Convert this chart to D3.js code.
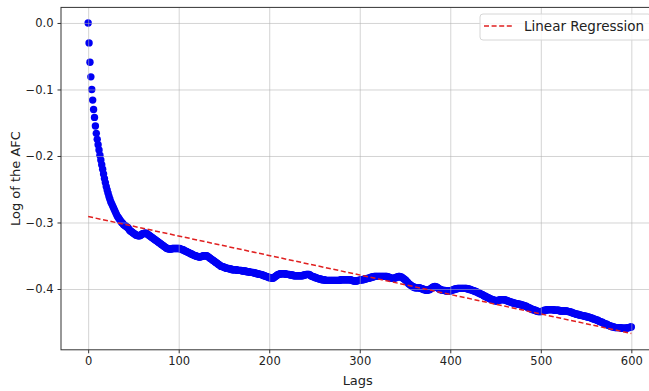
<!DOCTYPE html>
<html>
<head>
<meta charset="utf-8">
<script src="https://cdn.jsdelivr.net/npm/d3@7"></script>
<style>
  body { margin: 0; background: #fff; }
  svg { display: block; font-family: "DejaVu Sans", sans-serif; }
</style>
</head>
<body>
<svg></svg>
<script>
// log of the AFC, one value per lag (0..600)
const afcLog = [
  0.000, -0.030, -0.059, -0.081, -0.100, -0.116, -0.130, -0.142, -0.155, -0.166,
  -0.175, -0.183, -0.191, -0.199, -0.206, -0.213, -0.220, -0.227, -0.234, -0.240,
  -0.246, -0.251, -0.256, -0.261, -0.265, -0.269, -0.272, -0.275, -0.278, -0.281,
  -0.284, -0.287, -0.290, -0.292, -0.294, -0.296, -0.298, -0.300, -0.301, -0.303,
  -0.304, -0.305, -0.306, -0.307, -0.308, -0.310, -0.312, -0.313, -0.314, -0.315,
  -0.316, -0.317, -0.318, -0.319, -0.319, -0.320, -0.320, -0.320, -0.319, -0.318,
  -0.317, -0.317, -0.316, -0.316, -0.316, -0.317, -0.318, -0.319, -0.320, -0.321,
  -0.322, -0.323, -0.324, -0.325, -0.326, -0.327, -0.328, -0.329, -0.330, -0.331,
  -0.332, -0.333, -0.334, -0.335, -0.336, -0.337, -0.338, -0.339, -0.339, -0.340,
  -0.340, -0.340, -0.340, -0.339, -0.339, -0.339, -0.339, -0.339, -0.339, -0.339,
  -0.339, -0.339, -0.340, -0.340, -0.341, -0.341, -0.342, -0.343, -0.343, -0.344,
  -0.345, -0.345, -0.346, -0.347, -0.347, -0.348, -0.349, -0.349, -0.350, -0.350,
  -0.351, -0.351, -0.352, -0.352, -0.352, -0.351, -0.351, -0.350, -0.350, -0.350,
  -0.350, -0.350, -0.351, -0.352, -0.353, -0.354, -0.355, -0.356, -0.357, -0.358,
  -0.359, -0.360, -0.361, -0.362, -0.363, -0.364, -0.365, -0.366, -0.366, -0.367,
  -0.367, -0.368, -0.368, -0.369, -0.369, -0.369, -0.370, -0.370, -0.370, -0.371,
  -0.371, -0.371, -0.371, -0.371, -0.371, -0.372, -0.372, -0.372, -0.372, -0.372,
  -0.373, -0.373, -0.373, -0.373, -0.373, -0.374, -0.374, -0.374, -0.374, -0.375,
  -0.375, -0.375, -0.375, -0.376, -0.376, -0.376, -0.377, -0.377, -0.377, -0.378,
  -0.378, -0.378, -0.379, -0.379, -0.380, -0.380, -0.381, -0.381, -0.382, -0.382,
  -0.383, -0.383, -0.383, -0.384, -0.384, -0.383, -0.382, -0.381, -0.380, -0.379,
  -0.378, -0.378, -0.377, -0.377, -0.377, -0.377, -0.377, -0.377, -0.377, -0.378,
  -0.378, -0.378, -0.378, -0.379, -0.379, -0.379, -0.379, -0.380, -0.380, -0.380,
  -0.380, -0.380, -0.380, -0.380, -0.380, -0.380, -0.380, -0.380, -0.379, -0.379,
  -0.379, -0.378, -0.378, -0.378, -0.378, -0.379, -0.380, -0.381, -0.381, -0.382,
  -0.382, -0.383, -0.383, -0.384, -0.384, -0.385, -0.385, -0.385, -0.386, -0.386,
  -0.386, -0.386, -0.387, -0.387, -0.387, -0.387, -0.387, -0.387, -0.387, -0.387,
  -0.387, -0.387, -0.387, -0.387, -0.387, -0.387, -0.387, -0.387, -0.387, -0.386,
  -0.386, -0.386, -0.386, -0.386, -0.386, -0.386, -0.386, -0.386, -0.386, -0.386,
  -0.386, -0.387, -0.387, -0.388, -0.388, -0.388, -0.388, -0.388, -0.387, -0.387,
  -0.387, -0.386, -0.386, -0.386, -0.386, -0.385, -0.385, -0.385, -0.384, -0.384,
  -0.384, -0.383, -0.383, -0.382, -0.382, -0.382, -0.381, -0.381, -0.381, -0.381,
  -0.381, -0.381, -0.381, -0.381, -0.381, -0.381, -0.381, -0.381, -0.381, -0.381,
  -0.381, -0.382, -0.382, -0.383, -0.383, -0.384, -0.384, -0.384, -0.384, -0.383,
  -0.383, -0.382, -0.382, -0.381, -0.381, -0.382, -0.382, -0.383, -0.384, -0.385,
  -0.386, -0.387, -0.389, -0.390, -0.392, -0.393, -0.394, -0.395, -0.396, -0.397,
  -0.397, -0.398, -0.398, -0.398, -0.398, -0.398, -0.398, -0.399, -0.399, -0.400,
  -0.400, -0.401, -0.401, -0.402, -0.402, -0.402, -0.401, -0.401, -0.400, -0.399,
  -0.398, -0.397, -0.397, -0.396, -0.397, -0.397, -0.398, -0.399, -0.400, -0.401,
  -0.401, -0.402, -0.402, -0.402, -0.402, -0.403, -0.403, -0.403, -0.403, -0.403,
  -0.403, -0.402, -0.402, -0.401, -0.401, -0.400, -0.400, -0.400, -0.399, -0.399,
  -0.399, -0.399, -0.399, -0.399, -0.399, -0.399, -0.399, -0.399, -0.399, -0.400,
  -0.400, -0.400, -0.401, -0.401, -0.402, -0.402, -0.403, -0.403, -0.404, -0.404,
  -0.405, -0.406, -0.406, -0.407, -0.408, -0.408, -0.409, -0.410, -0.411, -0.411,
  -0.412, -0.413, -0.413, -0.414, -0.415, -0.415, -0.416, -0.416, -0.417, -0.417,
  -0.418, -0.418, -0.418, -0.417, -0.417, -0.416, -0.416, -0.416, -0.416, -0.416,
  -0.416, -0.417, -0.417, -0.418, -0.418, -0.419, -0.419, -0.420, -0.420, -0.421,
  -0.421, -0.421, -0.422, -0.422, -0.422, -0.423, -0.423, -0.423, -0.424, -0.424,
  -0.424, -0.425, -0.425, -0.426, -0.426, -0.427, -0.428, -0.428, -0.429, -0.430,
  -0.430, -0.431, -0.431, -0.432, -0.432, -0.433, -0.433, -0.434, -0.434, -0.434,
  -0.434, -0.434, -0.433, -0.433, -0.432, -0.432, -0.432, -0.431, -0.431, -0.431,
  -0.431, -0.431, -0.431, -0.431, -0.431, -0.432, -0.432, -0.432, -0.432, -0.432,
  -0.432, -0.433, -0.433, -0.433, -0.433, -0.433, -0.433, -0.433, -0.433, -0.433,
  -0.434, -0.434, -0.434, -0.435, -0.435, -0.436, -0.436, -0.437, -0.437, -0.438,
  -0.438, -0.438, -0.439, -0.439, -0.439, -0.440, -0.440, -0.440, -0.441, -0.441,
  -0.441, -0.442, -0.442, -0.442, -0.443, -0.443, -0.444, -0.444, -0.445, -0.445,
  -0.446, -0.446, -0.447, -0.447, -0.448, -0.449, -0.449, -0.450, -0.450, -0.451,
  -0.452, -0.452, -0.453, -0.453, -0.454, -0.455, -0.455, -0.456, -0.456, -0.457,
  -0.457, -0.457, -0.458, -0.458, -0.458, -0.458, -0.458, -0.458, -0.458, -0.459,
  -0.459, -0.459, -0.459, -0.459, -0.459, -0.459, -0.458, -0.458, -0.458, -0.457,
  -0.457
];
const lags = afcLog.map((d, i) => i);

// fitted line
const regIntercept = -0.291;
const regSlope = -0.000293;
const regLags = [0, 600];

const xTicks = [0, 100, 200, 300, 400, 500, 600];
const yTicks = [0, -0.1, -0.2, -0.3, -0.4];
const yTickLabels = ["0.0", "\u22120.1", "\u22120.2", "\u22120.3", "\u22120.4"];

let width = 649;
let height = 391;
let plotLeft = 61;
let plotRight = 658.5;
let plotTop = 7.4;
let plotBottom = 349.8;

let svg = d3.select("svg").attr("width", width).attr("height", height);

let xScale = d3.scaleLinear().domain([-30, 630]).range([plotLeft, plotRight]);
let yScale = d3.scaleLinear().domain([-0.4914, 0.0234]).range([plotBottom, plotTop]);

// points
svg
  .append("g")
  .selectAll("circle")
  .data(afcLog)
  .enter()
  .append("circle")
  .attr("cx", (d, i) => xScale(lags[i]))
  .attr("cy", (d) => yScale(d))
  .attr("r", 3.7)
  .attr("fill", "#0000f5");

// grid on top of the points, like the original
let xGrid = svg
  .append("g")
  .attr("transform", "translate(0," + plotBottom + ")")
  .call(d3.axisBottom(xScale).tickValues(xTicks).tickSize(-(plotBottom - plotTop)).tickFormat(""));
let yGrid = svg
  .append("g")
  .attr("transform", "translate(" + plotLeft + ",0)")
  .call(d3.axisLeft(yScale).tickValues(yTicks).tickSize(-(plotRight - plotLeft)).tickFormat(""));
[xGrid, yGrid].forEach((g) => {
  g.select(".domain").remove();
  g.selectAll("line").attr("stroke", "#b0b0b0").attr("stroke-opacity", 0.55).attr("stroke-width", 1);
});

// regression line
let line = d3
  .line()
  .x((d) => xScale(d))
  .y((d) => yScale(regIntercept + regSlope * d));
svg
  .append("path")
  .datum(regLags)
  .attr("d", line)
  .attr("fill", "none")
  .attr("stroke", "#e02020")
  .attr("stroke-width", 1.5)
  .attr("stroke-dasharray", "5,2.6");

// frame
svg
  .append("rect")
  .attr("x", plotLeft)
  .attr("y", plotTop)
  .attr("width", plotRight - plotLeft)
  .attr("height", plotBottom - plotTop)
  .attr("fill", "none")
  .attr("stroke", "#333")
  .attr("stroke-width", 1);

// axes
let xAxis = svg
  .append("g")
  .attr("transform", "translate(0," + plotBottom + ")")
  .call(d3.axisBottom(xScale).tickValues(xTicks).tickSize(3.5).tickPadding(3.5));
let yAxis = svg
  .append("g")
  .attr("transform", "translate(" + plotLeft + ",0)")
  .call(
    d3
      .axisLeft(yScale)
      .tickValues(yTicks)
      .tickSize(3.5)
      .tickPadding(4)
      .tickFormat((d, i) => yTickLabels[i])
  );
[xAxis, yAxis].forEach((g) => {
  g.select(".domain").remove();
  g.selectAll("line").attr("stroke", "#333");
  g.selectAll("text")
    .attr("fill", "#222")
    .style("font-size", "11.5px")
    .style("font-family", "DejaVu Sans");
});

// axis labels
svg
  .append("text")
  .attr("x", (plotLeft + plotRight) / 2 - 2)
  .attr("y", 385)
  .attr("text-anchor", "middle")
  .attr("fill", "#222")
  .style("font-size", "13px")
  .text("Lags");

svg
  .append("text")
  .attr("transform", "translate(20," + (plotTop + plotBottom) / 2 + ") rotate(-90)")
  .attr("text-anchor", "middle")
  .attr("fill", "#222")
  .style("font-size", "13px")
  .text("Log of the AFC");

// legend
let legend = svg.append("g").attr("transform", "translate(480,14)");
legend
  .append("rect")
  .attr("width", 171)
  .attr("height", 26)
  .attr("rx", 3)
  .attr("fill", "#fff")
  .attr("fill-opacity", 0.8)
  .attr("stroke", "#d6d6d6");
legend
  .append("line")
  .attr("x1", 4)
  .attr("x2", 33)
  .attr("y1", 12)
  .attr("y2", 12)
  .attr("stroke", "#e02020")
  .attr("stroke-width", 1.5)
  .attr("stroke-dasharray", "5,2.6");
legend
  .append("text")
  .attr("x", 44)
  .attr("y", 17)
  .attr("fill", "#222")
  .style("font-size", "13.5px")
  .text("Linear Regression");
</script>
</body>
</html>
